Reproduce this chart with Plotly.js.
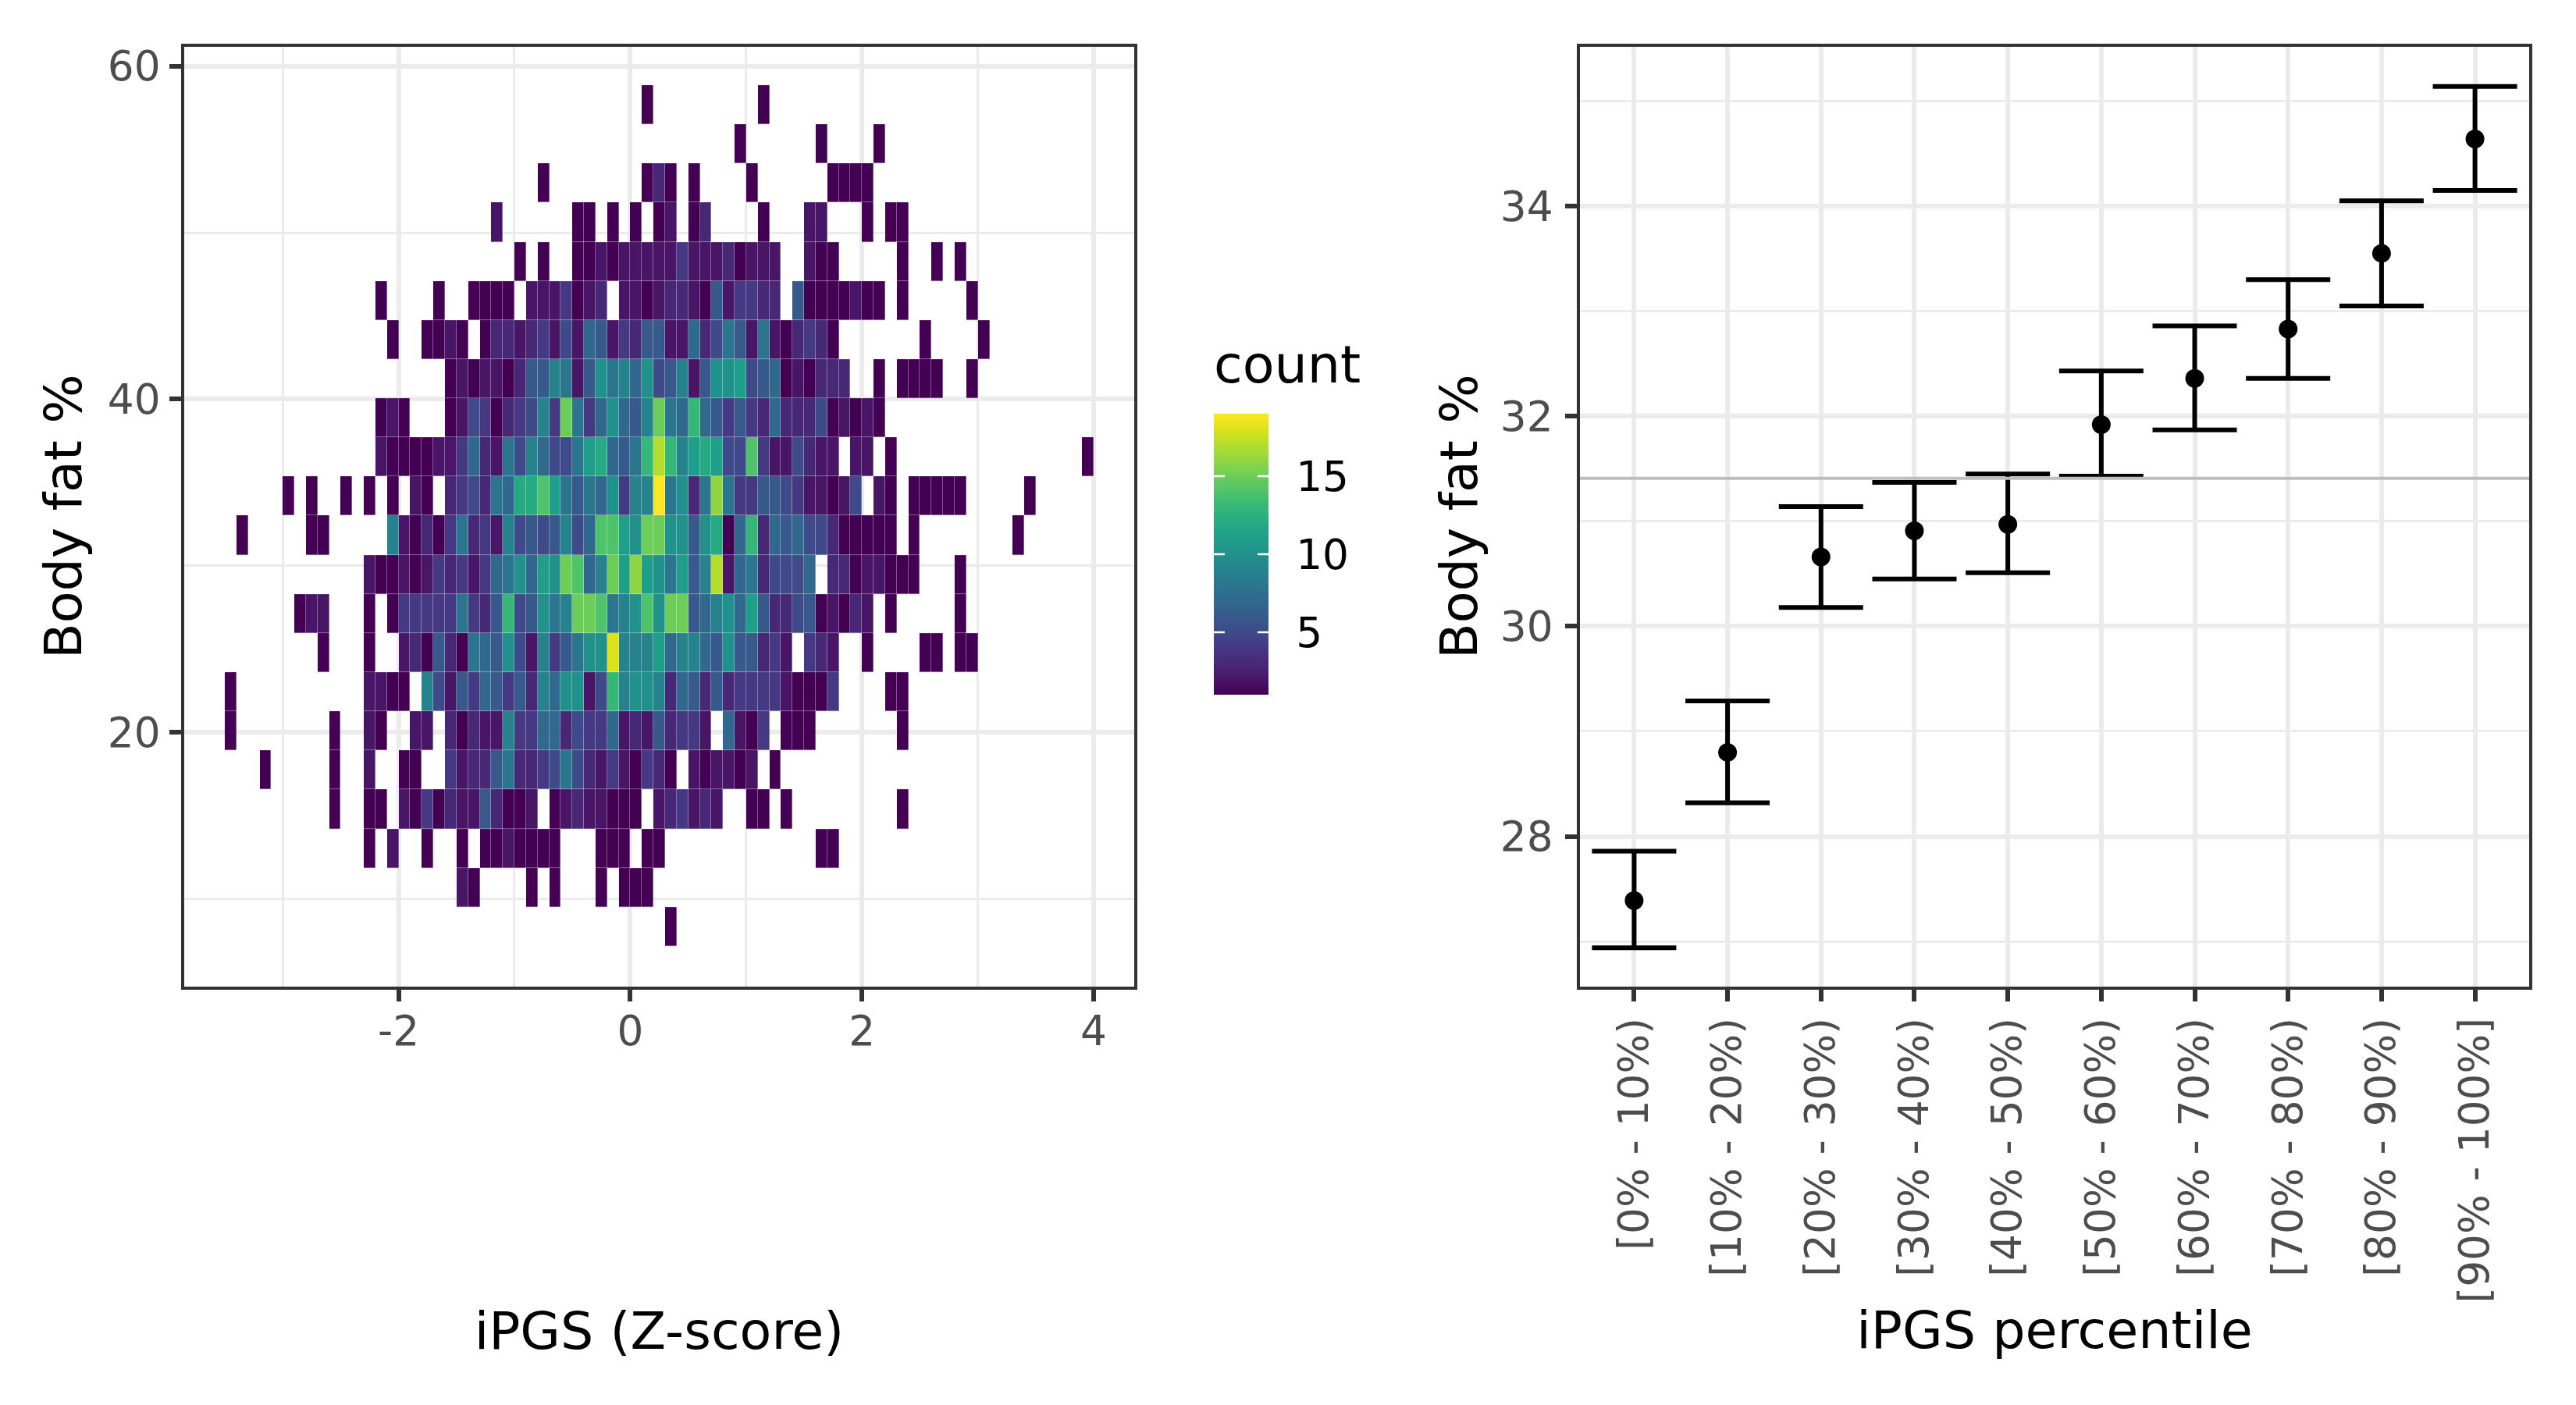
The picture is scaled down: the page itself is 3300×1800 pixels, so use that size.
<!DOCTYPE html>
<html><head><meta charset="utf-8">
<script src="https://cdn.plot.ly/plotly-3.0.1.min.js"></script>
<style>html,body{margin:0;padding:0;background:#fff}</style></head>
<body><div id="chart" style="width:3300px;height:1800px"></div>
<script>
const binColumns = ["-3.45","-3.35","-3.25","-3.15","-3.05","-2.95","-2.85","-2.75","-2.65","-2.55","-2.45","-2.35","-2.25","-2.15","-2.05","-1.95","-1.85","-1.75","-1.65","-1.55","-1.45","-1.35","-1.25","-1.15","-1.05","-0.95","-0.85","-0.75","-0.65","-0.55","-0.45","-0.35","-0.25","-0.15","-0.05","0.05","0.15","0.25","0.35","0.45","0.55","0.65","0.75","0.85","0.95","1.05","1.15","1.25","1.35","1.45","1.55","1.65","1.75","1.85","1.95","2.05","2.15","2.25","2.35","2.45","2.55","2.65","2.75","2.85","2.95","3.05","3.15","3.25","3.35","3.45","3.55","3.65","3.75","3.85","3.95"].map(Number);
const rowCentres = [57.68,55.33,52.98,50.63,48.28,45.93,43.58,41.23,38.88,36.54,34.19,31.84,29.49,27.14,24.79,22.44,20.09,17.74,15.39,13.04,10.69,8.34];
const r00={36:1,46:1};
const r01={44:1,51:1,56:1};
const r02={27:1,36:1,37:3,38:1,40:1,45:1,52:1,53:1,54:1,55:1};
const r03={23:2,30:1,31:1,33:1,35:1,37:1,38:2,40:1,41:3,46:1,50:2,51:2,55:1,57:1,58:1};
const r04={25:1,27:1,30:1,31:1,32:2,33:1,34:2,35:2,36:2,37:2,38:2,39:4,40:2,41:2,42:2,43:3,44:1,45:2,46:2,47:2,50:2,51:1,52:1,58:1,61:1,63:1};
const r05={13:1,18:1,21:1,22:1,23:1,24:1,26:2,27:2,28:2,29:4,30:1,31:2,32:3,34:2,35:2,36:1,37:2,38:3,39:3,40:2,41:1,42:6,43:2,44:4,45:4,46:3,47:3,49:6,50:1,51:1,52:1,53:1,54:2,55:1,56:1,58:1,64:1};
const r06={14:1,17:1,18:1,19:2,20:1,22:1,23:3,24:3,25:2,26:3,27:4,28:2,29:5,30:2,31:7,32:6,33:2,34:4,35:3,36:6,37:6,38:2,39:2,40:7,41:3,42:5,43:8,44:6,45:2,46:8,47:2,48:1,49:3,50:4,51:3,52:1,60:1,65:1};
const r07={19:1,20:2,21:1,22:2,23:2,24:1,25:3,26:6,27:6,28:9,29:8,30:2,31:6,32:10,33:8,34:9,35:7,36:10,37:5,38:6,39:9,40:2,41:6,42:10,43:10,44:11,45:5,46:6,47:7,48:1,49:2,50:1,51:3,52:3,53:3,56:1,58:1,59:1,60:1,61:1,64:1};
const r08={13:1,14:2,15:1,19:1,20:2,21:5,22:4,23:1,24:3,25:4,26:5,27:9,28:4,29:15,30:8,31:4,32:7,33:10,34:7,35:6,36:9,37:15,38:8,39:7,40:13,41:7,42:6,43:4,44:6,45:4,46:3,47:7,48:3,49:3,50:3,51:5,52:1,53:2,54:1,55:2,56:1};
const r09={13:2,14:1,15:1,16:1,17:1,18:2,19:2,20:4,21:7,22:3,23:2,24:8,25:5,26:9,27:7,28:5,29:5,30:8,31:11,32:12,33:7,34:6,35:8,36:13,37:17,38:13,39:9,40:11,41:12,42:11,43:5,44:5,45:14,46:4,47:2,48:2,49:5,50:3,51:2,52:2,54:2,55:2,57:1,74:1};
const r10={5:1,7:1,10:1,12:1,14:1,16:2,17:1,19:3,20:4,21:5,22:3,23:8,24:7,25:12,26:12,27:14,28:11,29:8,30:6,31:8,32:7,33:10,34:4,35:9,36:9,37:19,38:8,39:10,40:3,41:8,42:16,43:8,44:4,45:4,46:6,47:6,48:5,49:4,50:2,51:2,52:1,53:2,54:5,56:2,57:1,59:1,60:1,61:1,62:1,63:1,69:1};
const r11={1:1,7:1,8:1,14:9,15:2,16:1,17:3,18:1,19:4,20:8,21:3,22:4,23:2,24:9,25:5,26:6,27:5,28:6,29:9,30:5,31:7,32:14,33:14,34:11,35:10,36:15,37:15,38:10,39:10,40:6,41:10,42:12,43:1,44:7,45:13,46:3,47:7,48:6,49:7,50:5,51:5,52:3,53:1,54:1,55:1,56:1,57:1,59:1,68:1};
const r12={12:2,13:1,14:1,15:2,16:1,17:2,18:4,19:3,20:4,21:2,22:4,23:7,24:8,25:10,26:7,27:11,28:10,29:15,30:14,31:7,32:9,33:15,34:11,35:16,36:11,37:10,38:8,39:11,40:6,41:9,42:17,43:2,44:7,45:8,46:3,47:5,48:5,49:5,50:7,52:3,53:3,54:1,55:2,56:2,57:1,58:1,59:1,63:1};
const r13={6:1,7:2,8:2,12:1,14:1,15:4,16:4,17:4,18:4,19:4,20:8,21:4,22:3,23:6,24:13,25:5,26:6,27:10,28:8,29:9,30:15,31:15,32:14,33:8,34:9,35:10,36:14,37:10,38:15,39:15,40:6,41:7,42:9,43:10,44:7,45:11,46:6,47:3,48:3,49:5,50:6,51:1,52:2,53:1,54:3,55:2,57:1,63:1};
const r14={8:1,12:1,15:2,16:3,17:1,18:6,19:3,20:1,21:8,22:7,23:6,24:10,25:5,26:2,27:9,28:4,29:6,30:8,31:10,32:10,33:18,34:9,35:9,36:9,37:11,38:7,39:9,40:9,41:7,42:6,43:10,44:6,45:6,46:3,47:4,48:2,50:4,51:3,52:2,55:1,60:1,61:1,63:1,64:1};
const r15={0:1,12:2,13:2,14:1,15:1,17:9,18:5,19:2,20:6,21:4,22:7,23:6,24:4,25:6,26:3,27:9,28:7,29:10,30:10,31:2,32:5,33:13,34:9,35:10,36:10,37:9,38:3,39:7,40:6,41:3,42:6,43:3,44:4,45:4,46:4,47:4,48:2,49:1,50:1,51:1,52:4,57:1,58:1};
const r16={0:1,9:1,12:2,13:1,16:2,17:2,19:3,20:1,21:3,22:2,23:2,24:9,25:4,26:4,27:7,28:7,29:3,30:5,31:4,32:4,33:7,34:2,35:3,36:2,37:6,38:3,39:4,40:4,41:2,43:7,44:2,45:1,46:4,48:1,49:1,50:1,58:1};
const r17={3:1,9:1,12:2,15:1,16:1,19:4,20:2,21:3,22:3,23:6,24:8,25:3,26:3,27:4,28:5,29:8,30:5,31:3,32:2,33:4,34:2,35:1,36:4,37:3,38:1,40:2,41:1,42:2,43:2,44:1,45:2,47:1};
const r18={9:1,12:1,13:1,15:2,16:1,17:4,18:1,19:3,20:2,21:2,22:6,23:3,24:1,25:1,26:2,28:1,29:2,30:3,31:2,32:2,33:1,34:1,35:1,37:2,38:3,39:4,40:2,41:3,42:2,45:1,46:1,48:1,58:1};
const r19={12:1,14:2,17:1,20:1,22:1,23:1,24:2,25:1,26:1,27:1,28:1,32:1,33:1,34:1,36:1,37:1,51:1,52:1};
const r20={20:2,21:1,26:1,28:1,32:1,34:1,35:1,36:1};
const r21={38:1};
const countRows=[r00,r01,r02,r03,r04,r05,r06,r07,r08,r09,r10,r11,r12,r13,r14,r15,r16,r17,r18,r19,r20,r21];
const zCounts=countRows.map(r=>binColumns.map((_,i)=>(r[i]===undefined?null:r[i])));

const percentileLabels=["[0% - 10%)","[10% - 20%)","[20% - 30%)","[30% - 40%)","[40% - 50%)","[50% - 60%)","[60% - 70%)","[70% - 80%)","[80% - 90%)","[90% - 100%]"];
const meanFat=[27.39,28.80,30.66,30.91,30.97,31.92,32.36,32.83,33.55,34.64];
const upperFat=[27.86,29.29,31.14,31.37,31.45,32.43,32.86,33.30,34.05,35.14];
const lowerFat=[26.94,28.32,30.18,30.45,30.51,31.43,31.87,32.36,33.05,34.15];
const overallMean=31.41;
const countTicks=[5,10,15];
const zTickVals=[-2,0,2,4];
const zTickText=["-2","0","2","4"];

const W=3300,H=1800;
const P1={l:236,r:1453,t:59.5,b:1264};
const P2={l:2024,r:3240,t:59.5,b:1264};
const CB={l:1555,w:70,t:530,b:890,vmin:1,vmax:19};
const FONT='"DejaVu Sans", sans-serif';
const GRID='#EBEBEB',BORDER='#333333',TICKTXT='#4D4D4D';
const TITLE_SIZE=66.7,TICK_SIZE=53.3;
function axisBase(p,horizontal){
  return {
    domain: horizontal?[p.l/W,p.r/W]:[1-p.b/H,1-p.t/H],
    showline:true,mirror:true,linecolor:BORDER,linewidth:3.5,
    ticks:'outside',ticklen:15,tickwidth:6,tickcolor:BORDER,
    tickfont:{family:FONT,size:TICK_SIZE,color:TICKTXT},
    showgrid:true,gridcolor:GRID,gridwidth:6.4,zeroline:false
  };
}
const titleFont={family:FONT,size:TITLE_SIZE,color:'#000000'};
const heat={type:'heatmap',x:binColumns,y:rowCentres,z:zCounts,xaxis:'x',yaxis:'y',
  colorscale:'Viridis',zmin:CB.vmin,zmax:CB.vmax,xgap:0.35,ygap:0.35,hoverongaps:false,
  colorbar:{x:CB.l/W,xanchor:'left',xpad:0,ypad:0,y:1-CB.b/H,yanchor:'bottom',
    lenmode:'pixels',len:CB.b-CB.t,thicknessmode:'pixels',thickness:CB.w,outlinewidth:0,
    tickmode:'array',tickvals:countTicks,ticktext:countTicks.map(String),
    ticks:'outside',ticklen:25,tickwidth:1,tickcolor:'rgba(0,0,0,0)',
    tickfont:{family:FONT,size:TICK_SIZE,color:'#000000'}}};
const bars={type:'scatter',mode:'markers',x:percentileLabels,y:meanFat,xaxis:'x2',yaxis:'y2',
  marker:{color:'#000000',size:24},showlegend:false,
  error_y:{type:'data',symmetric:false,
    array:upperFat.map((u,i)=>u-meanFat[i]),arrayminus:lowerFat.map((l,i)=>meanFat[i]-l),
    color:'#000000',thickness:6,width:54}};
const barTickShapes=[];
countTicks.forEach(v=>{
  const py=CB.b-(v-CB.vmin)/(CB.vmax-CB.vmin)*(CB.b-CB.t);
  [[CB.l,CB.l+14],[CB.l+CB.w-14,CB.l+CB.w]].forEach(s=>barTickShapes.push(
    {type:'line',xref:'paper',yref:'paper',x0:s[0]/W,x1:s[1]/W,y0:1-py/H,y1:1-py/H,line:{color:'#FFFFFF',width:2.5},layer:'above'}));
});
const layout={width:W,height:H,margin:{l:0,r:0,t:0,b:0},paper_bgcolor:'#fff',plot_bgcolor:'#fff',showlegend:false,
  font:{family:FONT},
  annotations:[{text:'count',xref:'paper',yref:'paper',x:1553/W,y:1-467/H,xanchor:'left',yanchor:'middle',showarrow:false,font:titleFont}],
  xaxis:Object.assign(axisBase(P1,true),{anchor:'y',range:[-3.85,4.35],tickmode:'array',tickvals:zTickVals,ticktext:zTickText,ticklabelstandoff:-8,
    minor:{dtick:1,tick0:0,showgrid:true,gridcolor:GRID,gridwidth:3.2,ticks:''},
    title:{text:'iPGS (Z-score)',standoff:332,font:titleFont}}),
  yaxis:Object.assign(axisBase(P1,false),{anchor:'x',range:[4.73,61.18],tickmode:'linear',tick0:0,dtick:20,ticklabelstandoff:1,
    minor:{dtick:10,tick0:0,showgrid:true,gridcolor:GRID,gridwidth:3.2,ticks:''},
    title:{text:'Body fat %',standoff:12,font:titleFont}}),
  xaxis2:Object.assign(axisBase(P2,true),{anchor:'y2',type:'category',categoryorder:'array',categoryarray:percentileLabels,range:[-0.58,9.58],tickangle:-90,
    title:{text:'iPGS percentile',standoff:13,font:titleFont}}),
  yaxis2:Object.assign(axisBase(P2,false),{anchor:'x2',range:[26.57,35.52],tickmode:'linear',tick0:28,dtick:2,ticklabelstandoff:5,
    minor:{dtick:1,tick0:27,showgrid:true,gridcolor:GRID,gridwidth:3.2,ticks:''},
    title:{text:'Body fat %',standoff:8,font:titleFont}}),
  shapes:[{type:'line',xref:'x2 domain',yref:'y2',x0:0,x1:1,y0:overallMean,y1:overallMean,line:{color:'#BEBEBE',width:4},layer:'above'}].concat(barTickShapes)
};
Plotly.newPlot('chart',[heat,bars],layout,{displayModeBar:false,responsive:false}).then(gd=>{
  // the colour bar is painted after the shapes; lift the shape layer so its white ticks show on the bar
  const top=gd.querySelector('.layer-above');
  if(top&&top.parentNode) top.parentNode.appendChild(top);
});
</script></body></html>
